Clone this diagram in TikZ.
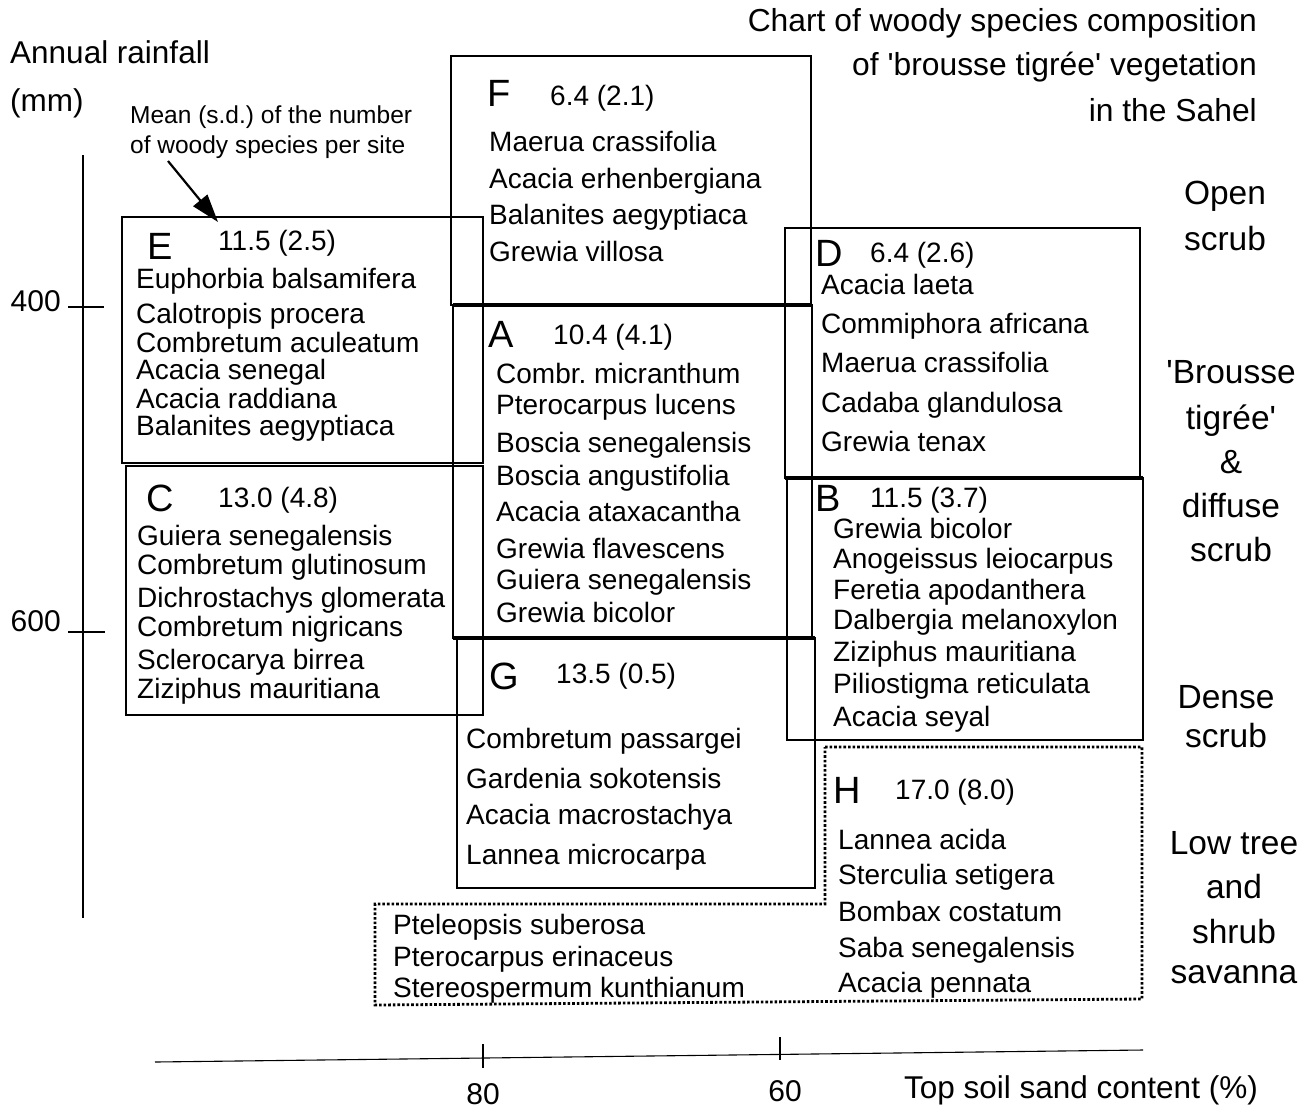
\documentclass[tikz,border=0pt]{standalone}
\usepackage{fontspec}
\setmainfont{Liberation Sans}[Ligatures=TeXOff]
\usetikzlibrary{arrows.meta}
\newcommand\fsz[1]{\fontsize{#1}{#1}\selectfont}
\frenchspacing
\begin{document}
\begin{tikzpicture}[x=1pt,y=-1pt,
  spc/.style={anchor=base west,inner sep=0,font=\fsz{28}},
  numtxt/.style={anchor=base west,inner sep=0,font=\fsz{28}},
  bigl/.style={anchor=base west,inner sep=0,font=\fsz{38}},
  lbl/.style={anchor=base,inner sep=0,font=\fsz{33.5}},
  ttl/.style={anchor=base east,inner sep=0,font=\fsz{31.8}},
  axl/.style={inner sep=0,font=\fsz{30}},
  boxline/.style={draw,line width=1.7},
  thickline/.style={line width=3.2},
  dotbox/.style={draw,line width=2.8,dash pattern=on 2.6 off 2},
  axisline/.style={line width=1.1}]
\useasboundingbox (0,0) rectangle (1314,1109);
\fill[white] (0,0) rectangle (1314,1109);

% title
\node[ttl] (t1) at (1257,31) {Chart of woody species composition};
\node[ttl] (t2) at (1257,75) {of 'brousse tigrée' vegetation};
\node[ttl] (t3) at (1257,121) {in the Sahel};

% y axis
\node[axl,anchor=base west,font=\fsz{31.5}] (ylab1) at (10,63) {Annual rainfall};
\node[axl,anchor=base west,font=\fsz{31.5}] (ylab2) at (10,111) {(mm)};
\coordinate (ytop) at (83,155);
\coordinate (ybot) at (83,918);
\draw[axisline] (ytop) -- (ybot);
\coordinate (t400a) at (68,307); \coordinate (t400b) at (104,307);
\coordinate (t600a) at (68,632); \coordinate (t600b) at (105,632);
\draw[axisline] (t400a) -- (t400b);
\draw[axisline] (t600a) -- (t600b);
\node[axl,anchor=base east] (l400) at (61,311) {400};
\node[axl,anchor=base east] (l600) at (61,631) {600};

% x axis
\coordinate (xl) at (155,1062);
\coordinate (xr) at (1143,1050);
\draw[axisline] (xl) -- (xr);
\coordinate (t80a) at (483,1044); \coordinate (t80b) at (483,1068);
\coordinate (t60a) at (780,1037); \coordinate (t60b) at (780,1060);
\draw[axisline] (t80a) -- (t80b);
\draw[axisline] (t60a) -- (t60b);
\node[axl,anchor=base] (l80) at (483,1104) {80};
\node[axl,anchor=base] (l60) at (785,1101) {60};
\node[axl,anchor=base east,font=\fsz{31.5}] (xlab) at (1258,1098) {Top soil sand content (\%)};

% annotation
\node[anchor=base west,inner sep=0,font=\fsz{24.5}] (ann1) at (130,123) {Mean (s.d.) of the number};
\node[anchor=base west,inner sep=0,font=\fsz{24.5}] (ann2) at (130,153) {of woody species per site};
\coordinate (arrs) at (168,161);
\coordinate (arrt) at (218,222);
\draw[line width=2.2,-{Triangle[length=28,width=18]}] (arrs) -- (arrt);

% right labels
\node[lbl] (r1) at (1225,204) {Open};
\node[lbl] (r2) at (1225,250) {scrub};
\node[lbl] (r3) at (1231,383) {'Brousse};
\node[lbl] (r4) at (1231,429) {tigrée'};
\node[lbl] (r5) at (1231,473) {\&};
\node[lbl] (r6) at (1231,517) {diffuse};
\node[lbl] (r7) at (1231,561) {scrub};
\node[lbl] (r8) at (1226,708) {Dense};
\node[lbl] (r9) at (1226,747) {scrub};
\node[lbl] (r10) at (1234,854) {Low tree};
\node[lbl] (r11) at (1234,898) {and};
\node[lbl] (r12) at (1234,943) {shrub};
\node[lbl] (r13) at (1234,983) {savanna};

% boxes
\draw[boxline] (451,56) rectangle (811,305);   % F
\draw[boxline] (453,305) rectangle (812,638);  % A
\draw[boxline] (457,638) rectangle (815,888);  % G
\draw[boxline] (122,217) rectangle (483,463);  % E
\draw[boxline] (126,466) rectangle (483,715);  % C
\draw[boxline] (785,228) rectangle (1140,478); % D
\draw[boxline] (787,478) rectangle (1143,740); % B
\draw[thickline] (453,305) -- (812,305);
\draw[thickline] (453,638) -- (815,638);
\draw[thickline] (785,478) -- (1143,478);
\draw[dotbox] (825,747) -- (1142,747) -- (1142,999) -- (375,1005) -- (375,904) -- (825,904) -- cycle;

% F
\node[bigl] (Fl) at (487,106) {F};
\node[numtxt] (Fn) at (550,105) {6.4 (2.1)};
\foreach \t/\yy [count=\i] in {Maerua crassifolia/151,Acacia erhenbergiana/188,Balanites aegyptiaca/224,Grewia villosa/261}
  \node[spc] (F\i) at (489,\yy) {\t};

% A
\node[bigl] (Al) at (488,347) {A};
\node[numtxt] (An) at (553,344) {10.4 (4.1)};
\foreach \t/\yy [count=\i] in {Combr. micranthum/383,Pterocarpus lucens/414,Boscia senegalensis/452,Boscia angustifolia/485,Acacia ataxacantha/521,Grewia flavescens/558,Guiera senegalensis/589,Grewia bicolor/622}
  \node[spc] (A\i) at (496,\yy) {\t};

% G
\node[bigl] (Gl) at (489,689) {G};
\node[numtxt] (Gn) at (556,683) {13.5 (0.5)};
\foreach \t/\yy [count=\i] in {Combretum passargei/748,Gardenia sokotensis/788,Acacia macrostachya/824,Lannea microcarpa/864}
  \node[spc] (G\i) at (466,\yy) {\t};

% E
\node[bigl] (El) at (147,259) {E};
\node[numtxt] (En) at (218,250) {11.5 (2.5)};
\foreach \t/\yy [count=\i] in {Euphorbia balsamifera/288,Calotropis procera/323,Combretum aculeatum/352,Acacia senegal/379,Acacia raddiana/408,Balanites aegyptiaca/435}
  \node[spc] (E\i) at (136,\yy) {\t};

% C
\node[bigl] (Cl) at (146,511) {C};
\node[numtxt] (Cn) at (218,507) {13.0 (4.8)};
\foreach \t/\yy [count=\i] in {Guiera senegalensis/545,Combretum glutinosum/574,Dichrostachys glomerata/607,Combretum nigricans/636,Sclerocarya birrea/669,Ziziphus mauritiana/698}
  \node[spc] (C\i) at (137,\yy) {\t};

% D
\node[bigl] (Dl) at (815,266) {D};
\node[numtxt] (Dn) at (870,262) {6.4 (2.6)};
\foreach \t/\yy [count=\i] in {Acacia laeta/294,Commiphora africana/333,Maerua crassifolia/372,Cadaba glandulosa/412,Grewia tenax/451}
  \node[spc] (D\i) at (821,\yy) {\t};

% B
\node[bigl] (Bl) at (815,511) {B};
\node[numtxt] (Bn) at (870,507) {11.5 (3.7)};
\foreach \t/\yy [count=\i] in {Grewia bicolor/538,Anogeissus leiocarpus/568,Feretia apodanthera/599,Dalbergia melanoxylon/629,Ziziphus mauritiana/661,Piliostigma reticulata/693,Acacia seyal/726}
  \node[spc] (B\i) at (833,\yy) {\t};

% H
\node[bigl] (Hl) at (833,803) {H};
\node[numtxt] (Hn) at (895,799) {17.0 (8.0)};
\foreach \t/\yy [count=\i] in {Lannea acida/849,Sterculia setigera/884,Bombax costatum/921,Saba senegalensis/957,Acacia pennata/992}
  \node[spc] (H\i) at (838,\yy) {\t};

% extra savanna species
\foreach \t/\yy [count=\i] in {Pteleopsis suberosa/934,Pterocarpus erinaceus/966,Stereospermum kunthianum/997}
  \node[spc] (X\i) at (393,\yy) {\t};
\end{tikzpicture}
\end{document}
